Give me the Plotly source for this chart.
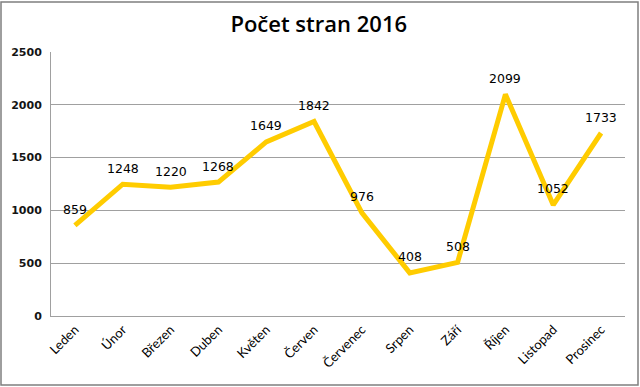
import plotly.graph_objects as go

months = ["Leden", "Únor", "Březen", "Duben", "Květen", "Červen", "Červenec",
          "Srpen", "Září", "Říjen", "Listopad", "Prosinec"]
pages = [859, 1248, 1220, 1268, 1649, 1842, 976, 408, 508, 2099, 1052, 1733]
y_ticks = [0, 500, 1000, 1500, 2000, 2500]

fig = go.Figure()
fig.add_trace(go.Scatter(
    x=months, y=pages, mode="lines",
    line=dict(color="#FFCC00", width=5),
    cliponaxis=False, showlegend=False, hoverinfo="x+y",
))

annotations = [
    dict(x=m, y=v, text=str(v), showarrow=False, xref="x", yref="y",
         yanchor="middle", xanchor="center", yshift=16,
         font=dict(family="DejaVu Sans", size=12.5, color="#000000"))
    for m, v in zip(months, pages)
]

fig.update_layout(
    width=640, height=387,
    margin=dict(l=51, r=15, t=52, b=71),
    paper_bgcolor="white", plot_bgcolor="white",
    title=dict(text="Počet stran 2016", x=0.498, xanchor="center", y=1 - 24 / 387, yanchor="middle",
               font=dict(family="Open Sans", size=22, color="#000000", weight=600)),
    xaxis=dict(
        showgrid=False, showline=True, linecolor="#A0A0A0", linewidth=1,
        tickangle=-45, ticks="", tickfont=dict(family="Lato", size=13, color="#000000"),
        range=[-0.5, 11.5], fixedrange=True, automargin=False,
    ),
    yaxis=dict(
        range=[0, 2500], tickvals=y_ticks, showgrid=True, gridcolor="#A0A0A0", gridwidth=1,
        showline=True, linecolor="#A0A0A0", linewidth=1, ticks="", zeroline=False,
        tickfont=dict(family="DejaVu Sans", size=11, color="#141414", weight="bold"),
        ticklabelstandoff=6, automargin=False, fixedrange=True,
    ),
    annotations=annotations,
    shapes=[dict(type="rect", xref="paper", yref="paper", x0=-50/574, x1=1 + 13/574,
                 y0=-69/264, y1=1 + 50/264, line=dict(color="#7F7F7F", width=1.5))],
)

fig.write_html("out.html", config={"displayModeBar": False},
               post_script="document.body.style.margin='0';")
